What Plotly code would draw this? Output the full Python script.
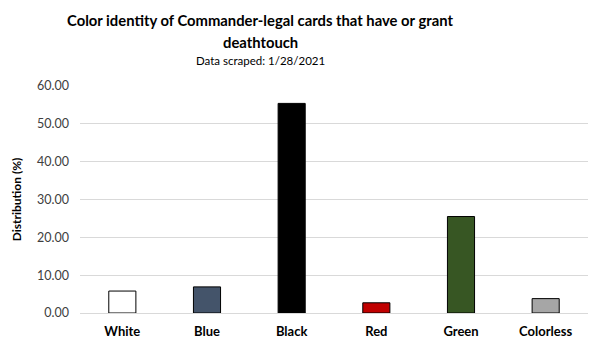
import plotly.graph_objects as go

# Color identity distribution of deathtouch cards (percent)
colors_identity = ["White", "Blue", "Black", "Red", "Green", "Colorless"]
distribution_pct = [5.8, 6.9, 55.4, 2.7, 25.5, 3.8]
bar_fills = ["#FFFFFF", "#44546A", "#000000", "#C00000", "#375623", "#A6A6A6"]
y_ticks = [0, 10, 20, 30, 40, 50, 60]

FONT = "Lato"
W, H = 609, 348
ML, MR, MT, MB = 80, 21, 86, 35

fig = go.Figure(
    go.Bar(
        x=colors_identity,
        y=distribution_pct,
        marker=dict(color=bar_fills, line=dict(color="#000000", width=1)),
        width=0.32,
    )
)

fig.update_layout(
    width=W,
    height=H,
    margin=dict(l=ML, r=MR, t=MT, b=MB, autoexpand=False),
    paper_bgcolor="white",
    plot_bgcolor="white",
    showlegend=False,
    font=dict(family=FONT, color="#595959"),
    xaxis=dict(
        automargin=False,
        showgrid=False,
        showline=False,
        ticks="",
        ticklabelstandoff=9,
        tickfont=dict(family=FONT, size=13, color="#000000", weight="bold"),
    ),
    yaxis=dict(
        automargin=False,
        range=[0, 60],
        tickvals=y_ticks,
        tickformat=".2f",
        showgrid=True,
        gridcolor="#D9D9D9",
        gridwidth=1,
        zeroline=True,
        zerolinecolor="#D9D9D9",
        zerolinewidth=1,
        showline=False,
        ticks="",
        ticklabelstandoff=10,
        tickfont=dict(family=FONT, size=12.5, color="#404040"),
        title=dict(
            text="Distribution (%)",
            font=dict(family=FONT, size=12, color="#000000", weight="bold"),
            standoff=12,
        ),
    ),
)


def add_heading(text, px_x, px_y, size, bold):
    """Place a heading line centred at a pixel position on the page."""
    plot_w = W - ML - MR
    plot_h = H - MT - MB
    fig.add_annotation(
        text=f"<b>{text}</b>" if bold else text,
        x=(px_x - ML) / plot_w,
        y=(H - px_y - MB) / plot_h,
        xref="paper",
        yref="paper",
        xanchor="center",
        yanchor="middle",
        showarrow=False,
        font=dict(family=FONT, size=size, color="#000000"),
    )


add_heading("Color identity of Commander-legal cards that have or grant", 260, 20, 14.8, True)
add_heading("deathtouch", 260, 42, 14.8, True)
add_heading("Data scraped: 1/28/2021", 260, 60, 11.5, False)

fig.write_html("out.html")
